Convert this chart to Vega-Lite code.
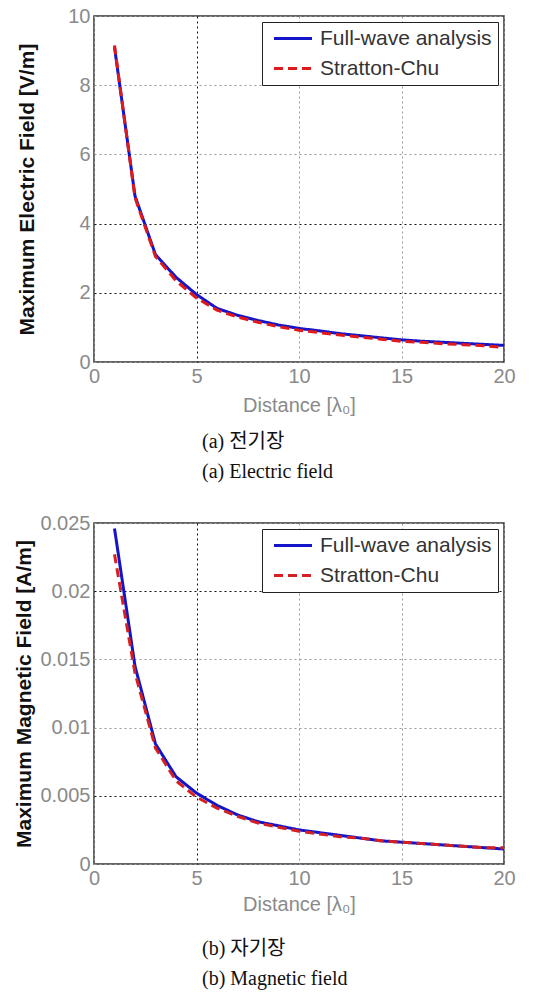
{
  "$schema": "https://vega.github.io/schema/vega-lite/v6.json",
  "padding": {"left": 13, "top": 5, "right": 5, "bottom": 5},
  "background": "white",
  "spacing": 29,
  "datasets": {
    "efield": [
      {"d": 1, "v": 9.1, "series": "Full-wave analysis"},
      {"d": 2, "v": 4.8, "series": "Full-wave analysis"},
      {"d": 3, "v": 3.1, "series": "Full-wave analysis"},
      {"d": 4, "v": 2.45, "series": "Full-wave analysis"},
      {"d": 5, "v": 1.95, "series": "Full-wave analysis"},
      {"d": 6, "v": 1.55, "series": "Full-wave analysis"},
      {"d": 7, "v": 1.35, "series": "Full-wave analysis"},
      {"d": 8, "v": 1.2, "series": "Full-wave analysis"},
      {"d": 9, "v": 1.07, "series": "Full-wave analysis"},
      {"d": 10, "v": 0.97, "series": "Full-wave analysis"},
      {"d": 11, "v": 0.9, "series": "Full-wave analysis"},
      {"d": 12, "v": 0.82, "series": "Full-wave analysis"},
      {"d": 13, "v": 0.76, "series": "Full-wave analysis"},
      {"d": 14, "v": 0.7, "series": "Full-wave analysis"},
      {"d": 15, "v": 0.64, "series": "Full-wave analysis"},
      {"d": 16, "v": 0.6, "series": "Full-wave analysis"},
      {"d": 17, "v": 0.57, "series": "Full-wave analysis"},
      {"d": 18, "v": 0.54, "series": "Full-wave analysis"},
      {"d": 19, "v": 0.51, "series": "Full-wave analysis"},
      {"d": 20, "v": 0.48, "series": "Full-wave analysis"},
      {"d": 1, "v": 9.15, "series": "Stratton-Chu"},
      {"d": 2, "v": 4.75, "series": "Stratton-Chu"},
      {"d": 3, "v": 3.05, "series": "Stratton-Chu"},
      {"d": 4, "v": 2.35, "series": "Stratton-Chu"},
      {"d": 5, "v": 1.85, "series": "Stratton-Chu"},
      {"d": 6, "v": 1.5, "series": "Stratton-Chu"},
      {"d": 7, "v": 1.3, "series": "Stratton-Chu"},
      {"d": 8, "v": 1.15, "series": "Stratton-Chu"},
      {"d": 9, "v": 1.02, "series": "Stratton-Chu"},
      {"d": 10, "v": 0.92, "series": "Stratton-Chu"},
      {"d": 11, "v": 0.85, "series": "Stratton-Chu"},
      {"d": 12, "v": 0.78, "series": "Stratton-Chu"},
      {"d": 13, "v": 0.72, "series": "Stratton-Chu"},
      {"d": 14, "v": 0.66, "series": "Stratton-Chu"},
      {"d": 15, "v": 0.6, "series": "Stratton-Chu"},
      {"d": 16, "v": 0.57, "series": "Stratton-Chu"},
      {"d": 17, "v": 0.53, "series": "Stratton-Chu"},
      {"d": 18, "v": 0.5, "series": "Stratton-Chu"},
      {"d": 19, "v": 0.47, "series": "Stratton-Chu"},
      {"d": 20, "v": 0.42, "series": "Stratton-Chu"}
    ],
    "hfield": [
      {"d": 1, "v": 0.0246, "series": "Full-wave analysis"},
      {"d": 2, "v": 0.0145, "series": "Full-wave analysis"},
      {"d": 3, "v": 0.0088, "series": "Full-wave analysis"},
      {"d": 4, "v": 0.0064, "series": "Full-wave analysis"},
      {"d": 5, "v": 0.0052, "series": "Full-wave analysis"},
      {"d": 6, "v": 0.0043, "series": "Full-wave analysis"},
      {"d": 7, "v": 0.0036, "series": "Full-wave analysis"},
      {"d": 8, "v": 0.0031, "series": "Full-wave analysis"},
      {"d": 9, "v": 0.0028, "series": "Full-wave analysis"},
      {"d": 10, "v": 0.0025, "series": "Full-wave analysis"},
      {"d": 11, "v": 0.0023, "series": "Full-wave analysis"},
      {"d": 12, "v": 0.0021, "series": "Full-wave analysis"},
      {"d": 13, "v": 0.0019, "series": "Full-wave analysis"},
      {"d": 14, "v": 0.0017, "series": "Full-wave analysis"},
      {"d": 15, "v": 0.0016, "series": "Full-wave analysis"},
      {"d": 16, "v": 0.0015, "series": "Full-wave analysis"},
      {"d": 17, "v": 0.0014, "series": "Full-wave analysis"},
      {"d": 18, "v": 0.0013, "series": "Full-wave analysis"},
      {"d": 19, "v": 0.0012, "series": "Full-wave analysis"},
      {"d": 20, "v": 0.0011, "series": "Full-wave analysis"},
      {"d": 1, "v": 0.0227, "series": "Stratton-Chu"},
      {"d": 2, "v": 0.014, "series": "Stratton-Chu"},
      {"d": 3, "v": 0.0085, "series": "Stratton-Chu"},
      {"d": 4, "v": 0.0061, "series": "Stratton-Chu"},
      {"d": 5, "v": 0.0049, "series": "Stratton-Chu"},
      {"d": 6, "v": 0.0041, "series": "Stratton-Chu"},
      {"d": 7, "v": 0.0035, "series": "Stratton-Chu"},
      {"d": 8, "v": 0.003, "series": "Stratton-Chu"},
      {"d": 9, "v": 0.0027, "series": "Stratton-Chu"},
      {"d": 10, "v": 0.0024, "series": "Stratton-Chu"},
      {"d": 11, "v": 0.0022, "series": "Stratton-Chu"},
      {"d": 12, "v": 0.002, "series": "Stratton-Chu"},
      {"d": 13, "v": 0.0019, "series": "Stratton-Chu"},
      {"d": 14, "v": 0.0017, "series": "Stratton-Chu"},
      {"d": 15, "v": 0.0016, "series": "Stratton-Chu"},
      {"d": 16, "v": 0.0015, "series": "Stratton-Chu"},
      {"d": 17, "v": 0.0014, "series": "Stratton-Chu"},
      {"d": 18, "v": 0.0013, "series": "Stratton-Chu"},
      {"d": 19, "v": 0.0012, "series": "Stratton-Chu"},
      {"d": 20, "v": 0.0012, "series": "Stratton-Chu"}
    ]
  },
  "resolve": {
    "scale": {"color": "independent", "strokeDash": "independent", "x": "independent", "y": "independent"},
    "legend": {"color": "independent", "strokeDash": "independent"}
  },
  "vconcat": [
    {
      "width": 410,
      "height": 346,
      "data": {"name": "efield"},
      "title": {
        "text": ["(a) 전기장", "(a) Electric field"],
        "orient": "bottom",
        "anchor": "start",
        "frame": "group",
        "dx": 108,
        "offset": 17
      },
      "mark": {"type": "line", "strokeWidth": 3},
      "encoding": {
        "x": {
          "field": "d", "type": "quantitative",
          "scale": {"domain": [0, 20], "nice": false},
          "axis": {"title": "Distance [λ₀]", "values": [0, 5, 10, 15, 20],
            "gridColor": {"condition": {"test": "datum.value == 5", "value": "#111111"}, "value": "#999999"}}
        },
        "y": {
          "field": "v", "type": "quantitative",
          "scale": {"domain": [0, 10], "nice": false},
          "axis": {"title": "Maximum Electric Field [V/m]", "values": [0, 2, 4, 6, 8, 10], "titlePadding": 30,
            "gridColor": {"condition": {"test": "datum.value == 2 || datum.value == 4", "value": "#111111"}, "value": "#999999"}}
        },
        "color": {
          "field": "series", "type": "nominal",
          "scale": {"domain": ["Full-wave analysis", "Stratton-Chu"], "range": ["#1414c8", "#e01a1a"]},
          "legend": {"title": null}
        },
        "strokeDash": {
          "field": "series", "type": "nominal",
          "scale": {"domain": ["Full-wave analysis", "Stratton-Chu"], "range": [[1, 0], [9, 5]]},
          "legend": {"title": null}
        }
      }
    },
    {
      "width": 410,
      "height": 341,
      "data": {"name": "hfield"},
      "title": {
        "text": ["(b) 자기장", "(b) Magnetic field"],
        "orient": "bottom",
        "anchor": "start",
        "frame": "group",
        "dx": 108,
        "offset": 25
      },
      "mark": {"type": "line", "strokeWidth": 3},
      "encoding": {
        "x": {
          "field": "d", "type": "quantitative",
          "scale": {"domain": [0, 20], "nice": false},
          "axis": {"title": "Distance [λ₀]", "values": [0, 5, 10, 15, 20], "titlePadding": 6,
            "gridColor": {"condition": {"test": "datum.value == 5", "value": "#111111"}, "value": "#999999"}}
        },
        "y": {
          "field": "v", "type": "quantitative",
          "scale": {"domain": [0, 0.025], "nice": false},
          "axis": {"title": "Maximum Magnetic Field [A/m]", "values": [0, 0.005, 0.01, 0.015, 0.02, 0.025], "format": "~g",
            "gridColor": {"condition": {"test": "abs(datum.value - 0.005) < 0.0001 || abs(datum.value - 0.02) < 0.0001", "value": "#111111"}, "value": "#999999"}}
        },
        "color": {
          "field": "series", "type": "nominal",
          "scale": {"domain": ["Full-wave analysis", "Stratton-Chu"], "range": ["#1414c8", "#d42020"]},
          "legend": {"title": null}
        },
        "strokeDash": {
          "field": "series", "type": "nominal",
          "scale": {"domain": ["Full-wave analysis", "Stratton-Chu"], "range": [[1, 0], [9, 5]]},
          "legend": {"title": null}
        }
      }
    }
  ],
  "config": {
    "font": "Liberation Sans",
    "view": {"stroke": "#333333", "strokeWidth": 1.5},
    "axis": {
      "domain": false,
      "ticks": false,
      "grid": true,
      "gridDash": [2, 3],
      "gridWidth": 1,
      "labelFont": "Liberation Sans",
      "labelFontSize": 20,
      "labelColor": "#8a8a8a",
      "labelPadding": 4,
      "titleFont": "Liberation Sans",
      "titleFontSize": 20,
      "titleColor": "#8a8a8a",
      "titleFontWeight": "normal",
      "titlePadding": 9
    },
    "axisY": {
      "titleColor": "#111111",
      "titleFontWeight": "bold",
      "titleFontSize": 21,
      "titlePadding": 5
    },
    "axisX": {"labelFlush": false},
    "legend": {
      "orient": "top-right",
      "offset": 6,
      "strokeColor": "#222222",
      "fillColor": "white",
      "padding": 6,
      "symbolType": "M-0.6,0H4.47",
      "symbolSize": 225,
      "symbolStrokeWidth": 3,
      "labelFont": "Liberation Sans",
      "labelFontSize": 21,
      "labelColor": "#333333",
      "labelLimit": 300,
      "labelOffset": 31,
      "rowPadding": 8,
      "cornerRadius": 0
    },
    "title": {
      "font": "Liberation Serif, Noto Sans CJK KR",
      "fontSize": 20,
      "fontWeight": "normal",
      "color": "#111111",
      "lineHeight": 30,
      "align": "left"
    }
  }
}
